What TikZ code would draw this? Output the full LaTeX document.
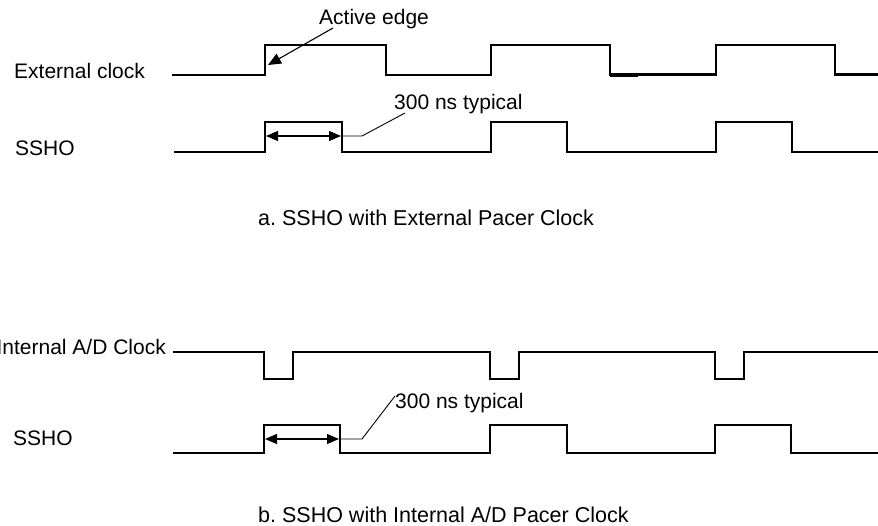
\documentclass[tikz,border=0pt]{standalone}
\usepackage{fontspec}
\setmainfont{Liberation Sans}
\usetikzlibrary{arrows.meta}
\frenchspacing
\begin{document}
\begin{tikzpicture}[x=1pt,y=-1pt,
  lbl/.style={inner sep=0pt,anchor=base west,font=\fontsize{21}{25}\selectfont},
  captext/.style={inner sep=0pt,anchor=base west,font=\fontsize{21.5}{25}\selectfont},
  wave/.style={line width=2.8pt,line join=miter},
  leader/.style={line width=0.9pt},
  dim/.style={line width=1.2pt,{Triangle[length=12pt,width=10pt]}-{Triangle[length=12pt,width=10pt]}},
  pointer/.style={line width=1.1pt,-{Triangle[length=13pt,width=11pt]}}]
\useasboundingbox (0,0) rectangle (878,526);
% labels
\node[lbl] (active) at (319,25) {Active edge};
\node[lbl] (ext) at (14,79) {External clock};
\node[lbl] (typA) at (394,110) {300 ns typical};
\node[lbl] (sshoA) at (15,156) {SSHO};
\node[captext] (capA) at (258,226) {a. SSHO with External Pacer Clock};
\node[lbl,anchor=base east] (intclk) at (166,355) {Internal A/D Clock};
\node[lbl] (typB) at (395,409) {300 ns typical};
\node[lbl] (sshoB) at (13,445) {SSHO};
\node[captext] (capB) at (258,522) {b. SSHO with Internal A/D Pacer Clock};
% waveforms (a)
\draw[wave] (172,75) -| (265,45) -| (386,75) -| (491,45) -| (610,74.5) -| (716,45) -| (835,74.5) -- (878,74.5);
\draw[line width=2.8pt] (610,75.8) -- (638,75.8);
\draw[wave] (174,152) -| (265,122) -| (342,152) -| (491,122) -| (567,152) -| (716,122) -| (792,152) -- (878,152);
% waveforms (b)
\draw[wave] (173,352) -| (264,379) -| (293,352) -| (490,379) -| (519,352) -| (715,379) -| (744,352) -- (878,352);
\draw[wave] (173,453) -| (264,425) -| (340,453) -| (490,425) -| (567,453) -| (715,425) -| (791,453) -- (878,453);
% annotations (a)
\coordinate (aeS) at (333,28);
\coordinate (aeE) at (268,65);
\draw[pointer] (aeS) -- (aeE);
\coordinate (dA1) at (266,136);
\coordinate (dA2) at (341,136);
\coordinate (lA1) at (362,136);
\coordinate (lA2) at (405,113);
\draw[dim] (dA1) -- (dA2);
\draw[leader] (dA2) -- (lA1) -- (lA2);
% annotations (b)
\coordinate (dB1) at (265,439);
\coordinate (dB2) at (339,439);
\coordinate (lB1) at (362,439);
\coordinate (lB2) at (395,396);
\draw[dim] (dB1) -- (dB2);
\draw[leader] (dB2) -- (lB1) -- (lB2);
\end{tikzpicture}
\end{document}
